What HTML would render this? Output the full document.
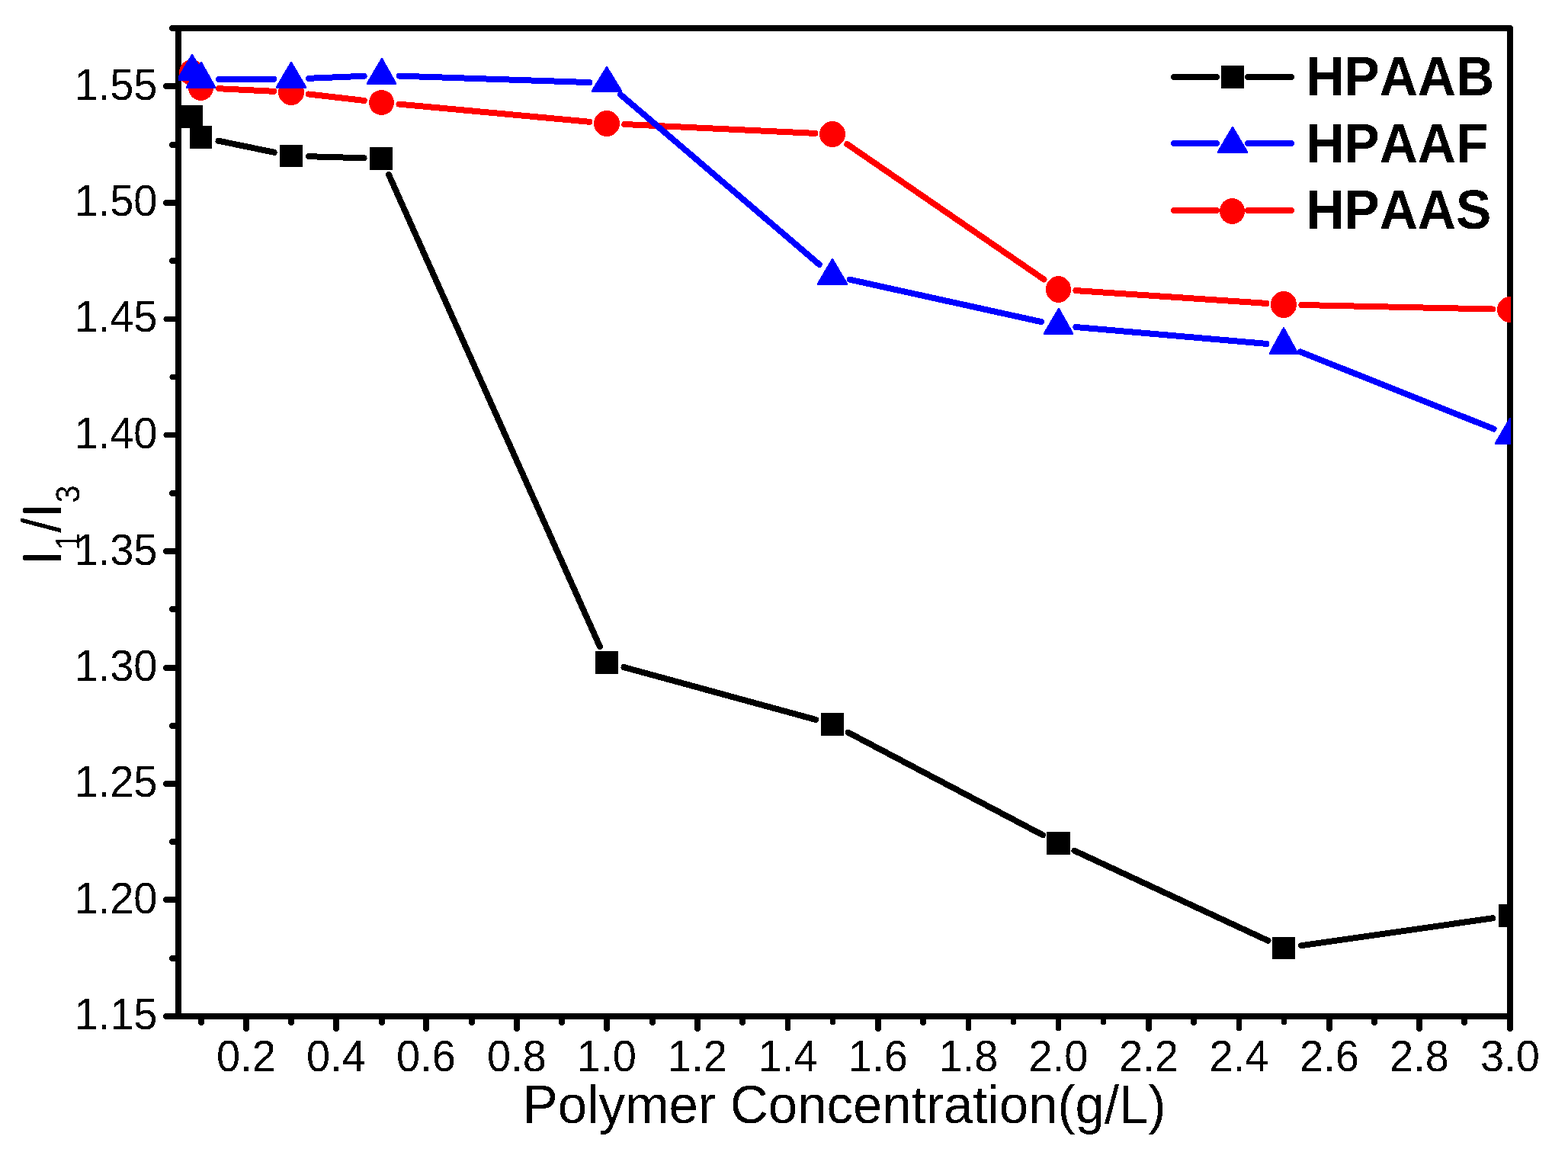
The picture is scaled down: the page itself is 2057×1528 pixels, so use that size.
<!DOCTYPE html>
<html lang="en">
<head>
<meta charset="utf-8">
<title>I1/I3 vs Polymer Concentration</title>
<style>
html,body{margin:0;padding:0;background:#fff;}
body{width:2057px;height:1528px;overflow:hidden;}
svg{display:block;}
text{font-family:"Liberation Sans",Arial,Helvetica,sans-serif;fill:#000;font-kerning:none;}
.tick{font-size:56px;}
.title{font-size:70px;}
.sub{font-size:42px;}
.leg{font-size:70px;font-weight:bold;}
.ax{stroke:#000;stroke-width:8;fill:none;stroke-linecap:round;stroke-linejoin:round;}
.ln{stroke-width:8;fill:none;stroke-linecap:round;}
</style>
</head>
<body>
<svg width="2057" height="1528" viewBox="0 0 2057 1528" shape-rendering="crispEdges">
<rect x="0" y="0" width="2057" height="1528" fill="#fff"/>
<defs><filter id="bw" filterUnits="userSpaceOnUse" x="0" y="0" width="2057" height="1528" color-interpolation-filters="sRGB"><feComponentTransfer><feFuncA type="discrete" tableValues="0 1"/></feComponentTransfer></filter><clipPath id="plot"><rect x="234" y="37" width="1748" height="1297"/></clipPath></defs>
<g class="ax">
<rect x="234" y="37" width="1747" height="1296"/>
<line x1="234" y1="113.0" x2="218" y2="113.0" stroke-width="8"/>
<line x1="234" y1="266.0" x2="218" y2="266.0" stroke-width="8"/>
<line x1="234" y1="418.5" x2="218" y2="418.5" stroke-width="7"/>
<line x1="234" y1="570.5" x2="218" y2="570.5" stroke-width="7"/>
<line x1="234" y1="723.0" x2="218" y2="723.0" stroke-width="8"/>
<line x1="234" y1="876.0" x2="218" y2="876.0" stroke-width="8"/>
<line x1="234" y1="1028.0" x2="218" y2="1028.0" stroke-width="8"/>
<line x1="234" y1="1180.0" x2="218" y2="1180.0" stroke-width="8"/>
<line x1="234" y1="1333.0" x2="218" y2="1333.0" stroke-width="8"/>
<line x1="234" y1="37.0" x2="226" y2="37.0" stroke-width="8"/>
<line x1="234" y1="190.0" x2="226" y2="190.0" stroke-width="8"/>
<line x1="234" y1="342.0" x2="226" y2="342.0" stroke-width="8"/>
<line x1="234" y1="494.5" x2="226" y2="494.5" stroke-width="7"/>
<line x1="234" y1="647.0" x2="226" y2="647.0" stroke-width="8"/>
<line x1="234" y1="799.0" x2="226" y2="799.0" stroke-width="8"/>
<line x1="234" y1="952.0" x2="226" y2="952.0" stroke-width="8"/>
<line x1="234" y1="1104.0" x2="226" y2="1104.0" stroke-width="8"/>
<line x1="234" y1="1257.0" x2="226" y2="1257.0" stroke-width="8"/>
<line x1="323.0" y1="1333" x2="323.0" y2="1349" stroke-width="8"/>
<line x1="441.0" y1="1333" x2="441.0" y2="1349" stroke-width="8"/>
<line x1="559.0" y1="1333" x2="559.0" y2="1349" stroke-width="8"/>
<line x1="678.0" y1="1333" x2="678.0" y2="1349" stroke-width="8"/>
<line x1="796.0" y1="1333" x2="796.0" y2="1349" stroke-width="8"/>
<line x1="915.0" y1="1333" x2="915.0" y2="1349" stroke-width="8"/>
<line x1="1033.5" y1="1333" x2="1033.5" y2="1349" stroke-width="7"/>
<line x1="1152.0" y1="1333" x2="1152.0" y2="1349" stroke-width="8"/>
<line x1="1270.5" y1="1333" x2="1270.5" y2="1349" stroke-width="7"/>
<line x1="1388.5" y1="1333" x2="1388.5" y2="1349" stroke-width="7"/>
<line x1="1507.0" y1="1333" x2="1507.0" y2="1349" stroke-width="8"/>
<line x1="1625.5" y1="1333" x2="1625.5" y2="1349" stroke-width="7"/>
<line x1="1744.0" y1="1333" x2="1744.0" y2="1349" stroke-width="8"/>
<line x1="1862.0" y1="1333" x2="1862.0" y2="1349" stroke-width="8"/>
<line x1="1981.0" y1="1333" x2="1981.0" y2="1349" stroke-width="8"/>
<line x1="264.0" y1="1333" x2="264.0" y2="1341" stroke-width="8"/>
<line x1="382.0" y1="1333" x2="382.0" y2="1341" stroke-width="8"/>
<line x1="501.0" y1="1333" x2="501.0" y2="1341" stroke-width="8"/>
<line x1="619.0" y1="1333" x2="619.0" y2="1341" stroke-width="8"/>
<line x1="737.0" y1="1333" x2="737.0" y2="1341" stroke-width="8"/>
<line x1="856.0" y1="1333" x2="856.0" y2="1341" stroke-width="8"/>
<line x1="974.0" y1="1333" x2="974.0" y2="1341" stroke-width="8"/>
<line x1="1092.5" y1="1333" x2="1092.5" y2="1341" stroke-width="7"/>
<line x1="1211.0" y1="1333" x2="1211.0" y2="1341" stroke-width="8"/>
<line x1="1329.5" y1="1333" x2="1329.5" y2="1341" stroke-width="7"/>
<line x1="1447.5" y1="1333" x2="1447.5" y2="1341" stroke-width="7"/>
<line x1="1566.0" y1="1333" x2="1566.0" y2="1341" stroke-width="8"/>
<line x1="1684.5" y1="1333" x2="1684.5" y2="1341" stroke-width="7"/>
<line x1="1803.0" y1="1333" x2="1803.0" y2="1341" stroke-width="8"/>
<line x1="1921.0" y1="1333" x2="1921.0" y2="1341" stroke-width="8"/>
</g>
<g filter="url(#bw)">
<g class="tick" text-anchor="end">
<text transform="translate(206.5 131) scale(1 1.0405)">1.55</text>
<text transform="translate(206.5 283) scale(1 1.0405)">1.50</text>
<text transform="translate(206.5 435) scale(1 1.0405)">1.45</text>
<text transform="translate(206.5 588) scale(1 1.0405)">1.40</text>
<text transform="translate(206.5 741) scale(1 1.0405)">1.35</text>
<text transform="translate(206.5 893) scale(1 1.0405)">1.30</text>
<text transform="translate(206.5 1045) scale(1 1.0405)">1.25</text>
<text transform="translate(206.5 1198) scale(1 1.0405)">1.20</text>
<text transform="translate(206.5 1350) scale(1 1.0405)">1.15</text>
</g>
<g class="tick" text-anchor="middle">
<text transform="translate(323.0 1405) scale(1 1.0405)">0.2</text>
<text transform="translate(441.0 1405) scale(1 1.0405)">0.4</text>
<text transform="translate(559.0 1405) scale(1 1.0405)">0.6</text>
<text transform="translate(678.0 1405) scale(1 1.0405)">0.8</text>
<text transform="translate(796.0 1405) scale(1 1.0405)">1.0</text>
<text transform="translate(915.0 1405) scale(1 1.0405)">1.2</text>
<text transform="translate(1033.5 1405) scale(1 1.0405)">1.4</text>
<text transform="translate(1152.0 1405) scale(1 1.0405)">1.6</text>
<text transform="translate(1270.5 1405) scale(1 1.0405)">1.8</text>
<text transform="translate(1388.5 1405) scale(1 1.0405)">2.0</text>
<text transform="translate(1507.0 1405) scale(1 1.0405)">2.2</text>
<text transform="translate(1625.5 1405) scale(1 1.0405)">2.4</text>
<text transform="translate(1744.0 1405) scale(1 1.0405)">2.6</text>
<text transform="translate(1862.0 1405) scale(1 1.0405)">2.8</text>
<text transform="translate(1981.0 1405) scale(1 1.0405)">3.0</text>
</g>
<text class="title" transform="translate(685.7 1473.2) scale(0.986 1.012)">Polymer Concentration(g/L)</text>
<text class="title" transform="translate(80 741.5) rotate(-90) scale(1 1.0405)">I<tspan class="sub" dy="23">1</tspan><tspan dy="-23">/I</tspan><tspan class="sub" dy="23">3</tspan></text>
</g>
<g clip-path="url(#plot)">
<g class="ln" stroke="#000"><line x1="286.5" y1="184.7" x2="359.6" y2="199.8"/><line x1="405.1" y1="205.2" x2="477.6" y2="207.3"/><line x1="510.0" y1="229.0" x2="786.9" y2="848.0"/><line x1="818.5" y1="875.1" x2="1070.1" y2="943.9"/><line x1="1112.7" y1="960.7" x2="1368.1" y2="1095.3"/><line x1="1409.4" y1="1115.7" x2="1663.5" y2="1233.8"/><line x1="1707.2" y1="1240.2" x2="1958.2" y2="1204.3"/></g>
<g fill="#000"><rect x="236" y="138" width="30" height="30"/><rect x="249" y="165" width="29" height="30"/><rect x="367" y="190" width="30" height="29"/><rect x="485" y="193" width="30" height="30"/><rect x="781" y="854" width="30" height="30"/><rect x="1077" y="935" width="30" height="30"/><rect x="1373" y="1091" width="31" height="30"/><rect x="1669" y="1229" width="30" height="29"/><rect x="1966" y="1186" width="30" height="30"/></g>
<g class="ln" stroke="#f00"><line x1="287.0" y1="116.2" x2="359.1" y2="119.8"/><line x1="405.0" y1="123.5" x2="477.7" y2="131.9"/><line x1="523.5" y1="136.6" x2="773.4" y2="159.8"/><line x1="819.3" y1="163.0" x2="1069.3" y2="174.9"/><line x1="1111.3" y1="189.0" x2="1369.5" y2="366.5"/><line x1="1411.4" y1="381.1" x2="1661.5" y2="397.9"/><line x1="1707.4" y1="400.0" x2="1958.0" y2="405.5"/></g>
<g fill="#f00"><ellipse cx="251.5" cy="95.0" rx="16.5" ry="17.0"/><ellipse cx="263.5" cy="115.0" rx="16.5" ry="17.0"/><ellipse cx="382.0" cy="121.0" rx="17.0" ry="17.0"/><ellipse cx="500.5" cy="134.5" rx="16.5" ry="16.5"/><ellipse cx="796.0" cy="162.0" rx="17.0" ry="17.0"/><ellipse cx="1092.0" cy="176.0" rx="17.0" ry="17.0"/><ellipse cx="1388.5" cy="379.5" rx="16.5" ry="17.5"/><ellipse cx="1684.0" cy="399.5" rx="17.0" ry="17.5"/><ellipse cx="1981.0" cy="406.0" rx="17.0" ry="17.0"/></g>
<g class="ln" stroke="#00f"><line x1="287.0" y1="103.9" x2="359.1" y2="103.8"/><line x1="405.1" y1="102.8" x2="477.6" y2="99.8"/><line x1="523.6" y1="99.6" x2="773.3" y2="108.1"/><line x1="813.8" y1="123.8" x2="1074.8" y2="346.9"/><line x1="1114.8" y1="366.7" x2="1366.0" y2="422.1"/><line x1="1411.4" y1="429.0" x2="1661.5" y2="450.9"/><line x1="1705.8" y1="461.4" x2="1959.6" y2="562.6"/></g>
<g fill="#00f"><polygon points="252.0,69.8 272.3,104.0 272.3,106.0 231.7,106.0 231.7,104.0"/><polygon points="264.0,79.8 283.3,114.0 283.3,116.0 243.7,116.0 243.7,114.0"/><polygon points="382.0,79.8 402.3,114.0 402.3,116.0 361.7,116.0 361.7,114.0"/><polygon points="501.0,74.8 520.3,109.0 520.3,111.0 480.7,111.0 480.7,109.0"/><polygon points="796.0,85.8 816.3,119.0 816.3,121.0 775.7,121.0 775.7,119.0"/><polygon points="1092.0,337.8 1112.3,372.0 1112.3,374.0 1071.7,374.0 1071.7,372.0"/><polygon points="1389.0,402.8 1408.3,437.0 1408.3,439.0 1368.7,439.0 1368.7,437.0"/><polygon points="1684.0,427.8 1703.3,463.0 1703.3,465.0 1664.7,465.0 1664.7,463.0"/><polygon points="1981.0,546.8 2001.3,581.0 2001.3,583.0 1960.7,583.0 1960.7,581.0"/></g>
</g>
<g class="ln" stroke="#000"><line x1="1540" y1="101" x2="1596" y2="101"/><line x1="1637" y1="101" x2="1694" y2="101"/></g>
<rect x="1602" y="86" width="30" height="30" fill="#000"/>
<g filter="url(#bw)"><text class="leg" transform="translate(1713.2 125) scale(0.9925 1.0405)">HPAAB</text></g>
<g class="ln" stroke="#00f"><line x1="1540" y1="188" x2="1596" y2="188"/><line x1="1637" y1="188" x2="1694" y2="188"/></g>
<polygon points="1617.0,164.8 1637.3,199.0 1637.3,201.0 1596.7,201.0 1596.7,199.0" fill="#00f"/>
<g filter="url(#bw)"><text class="leg" transform="translate(1713.2 213) scale(0.9925 1.0405)">HPAAF</text></g>
<g class="ln" stroke="#f00"><line x1="1540" y1="276" x2="1596" y2="276"/><line x1="1637" y1="276" x2="1694" y2="276"/></g>
<ellipse cx="1616.5" cy="277.0" rx="16.5" ry="17.0" fill="#f00"/>
<g filter="url(#bw)"><text class="leg" transform="translate(1713.2 300) scale(0.9925 1.0405)">HPAAS</text></g>
</svg>
</body>
</html>
